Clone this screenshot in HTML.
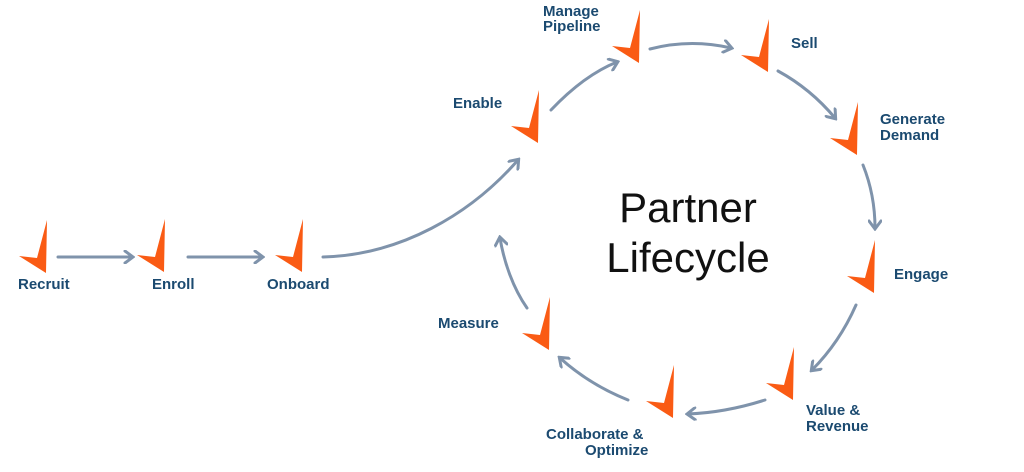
<!DOCTYPE html>
<html><head><style>
body{margin:0;width:1024px;height:472px;background:#fff;overflow:hidden}
svg{display:block}
text{font-family:"Liberation Sans",sans-serif;font-weight:bold;font-size:15px;fill:#1b4a70}
.t{font-weight:normal;font-size:42px;fill:#111;text-anchor:middle}
.a{fill:none;stroke:#7f93ab;stroke-width:3;stroke-linecap:round}
</style></head><body>
<svg width="1024" height="472" viewBox="0 0 1024 472">
<defs>
<marker id="m" markerWidth="12" markerHeight="14" refX="9" refY="7" orient="auto" markerUnits="userSpaceOnUse">
<path d="M2,1 L10,7 L2,13" fill="none" stroke="#7f93ab" stroke-width="3" stroke-linecap="round"/>
</marker>
<polygon id="c" points="1,-53 0,0 -27,-17 -9,-15" fill="#fa5b14"/>
</defs>
<use href="#c" x="46" y="273"/>
<use href="#c" x="164" y="272"/>
<use href="#c" x="302" y="272"/>
<use href="#c" x="538" y="143"/>
<use href="#c" x="639" y="63"/>
<use href="#c" x="768" y="72"/>
<use href="#c" x="857" y="155"/>
<use href="#c" x="874" y="293"/>
<use href="#c" x="793" y="400"/>
<use href="#c" x="673" y="418"/>
<use href="#c" x="549" y="350"/>

<path class="a" marker-end="url(#m)" d="M58,257 L132,257"/>
<path class="a" marker-end="url(#m)" d="M188,257 L262,257"/>
<path class="a" marker-end="url(#m)" d="M323,257 C400,255 470,215 518,160"/>
<path class="a" marker-end="url(#m)" d="M551,110 C570,90 592,72 617,62"/>
<path class="a" marker-end="url(#m)" d="M650,49 C677,42 705,42 731,48"/>
<path class="a" marker-end="url(#m)" d="M778,71 C800,83 820,100 835,118"/>
<path class="a" marker-end="url(#m)" d="M863,165 C871,185 875,206 875,228"/>
<path class="a" marker-end="url(#m)" d="M856,305 C845,330 830,352 812,370"/>
<path class="a" marker-end="url(#m)" d="M765,400 C740,408 714,413 688,414"/>
<path class="a" marker-end="url(#m)" d="M628,400 C603,390 580,376 560,358"/>
<path class="a" marker-end="url(#m)" d="M527,308 C513,288 504,262 500,238"/>

<text class="t" x="688" y="222">Partner</text>
<text class="t" x="688" y="272">Lifecycle</text>

<text x="18" y="289">Recruit</text>
<text x="152" y="289">Enroll</text>
<text x="267" y="289">Onboard</text>
<text x="453" y="108">Enable</text>
<text x="543" y="16">Manage</text>
<text x="543" y="31">Pipeline</text>
<text x="791" y="48">Sell</text>
<text x="880" y="124">Generate</text>
<text x="880" y="140">Demand</text>
<text x="894" y="279">Engage</text>
<text x="806" y="415">Value &amp;</text>
<text x="806" y="431">Revenue</text>
<text x="546" y="439">Collaborate &amp;</text>
<text x="585" y="455">Optimize</text>
<text x="438" y="328">Measure</text>
</svg>
</body></html>
